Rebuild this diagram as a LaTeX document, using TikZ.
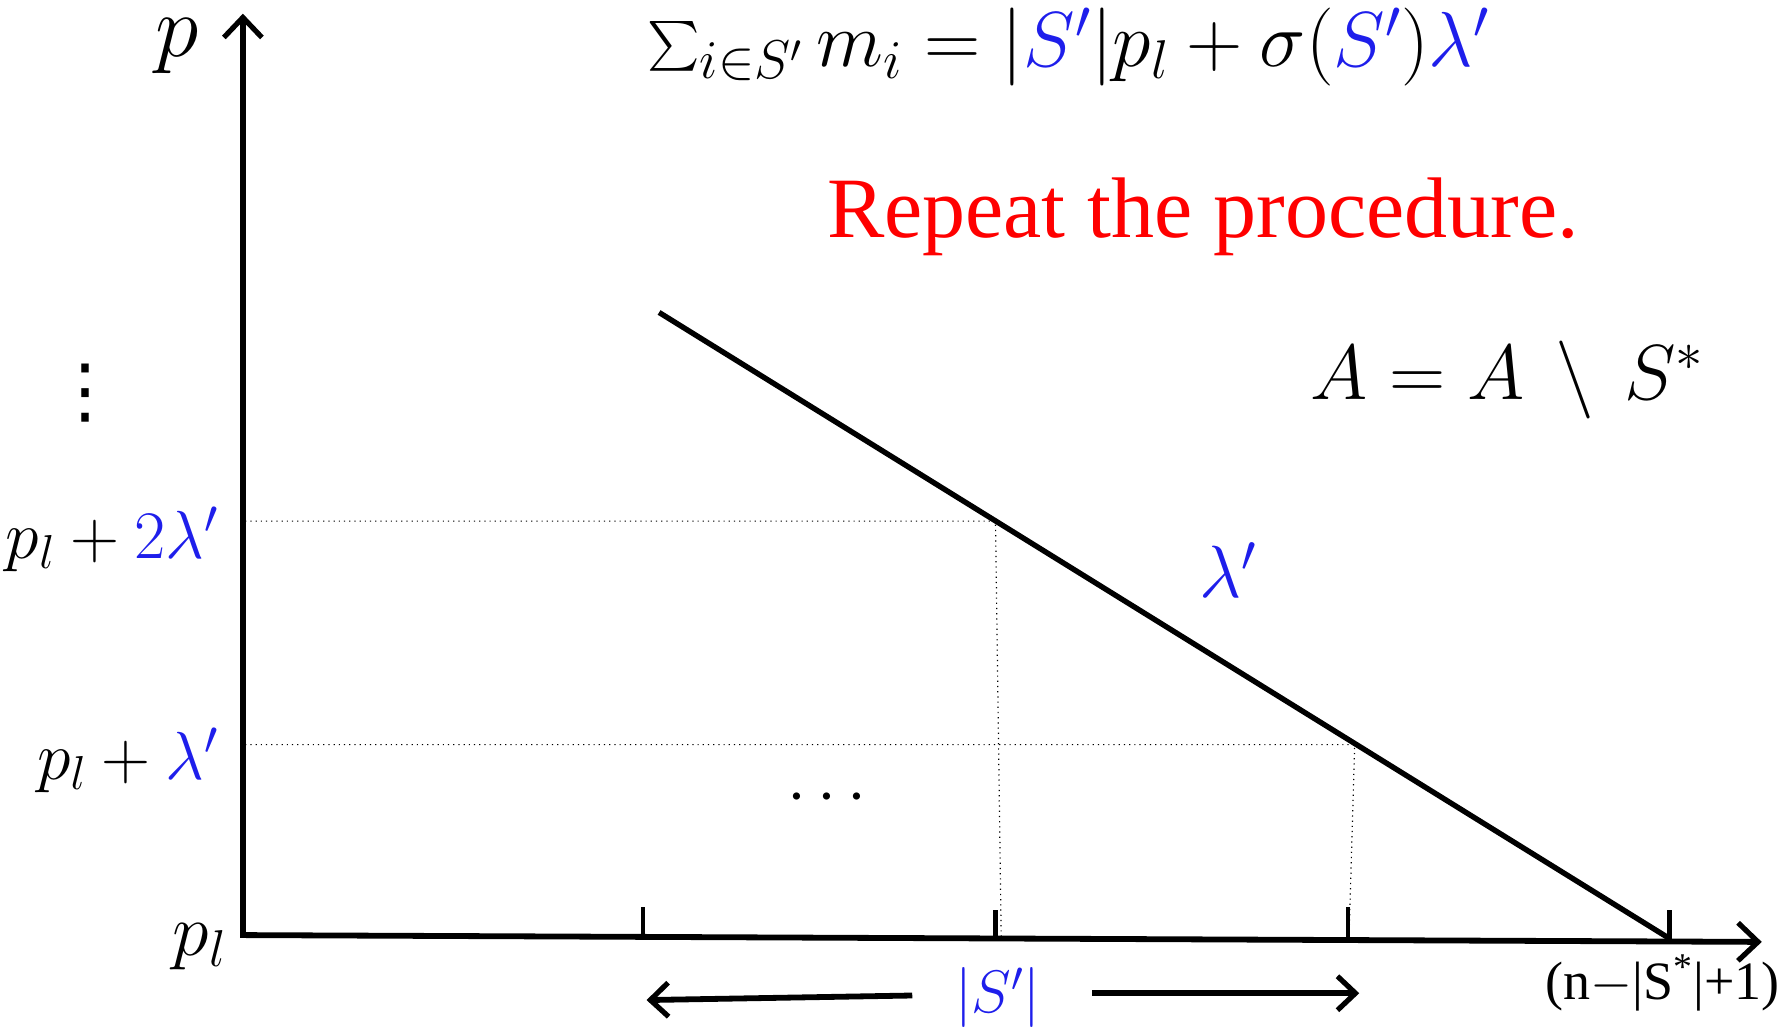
\RequirePackage{fix-cm}
\documentclass[tikz,border=0pt]{standalone}
\usepackage{amsmath}
\usepackage{fontspec}
\newfontfamily\timesf{Liberation Serif}
\newfontfamily\dejavu{DejaVu Sans}
\usetikzlibrary{arrows.meta}
\definecolor{myblue}{RGB}{30,30,235}
\begin{document}
\begin{tikzpicture}[x=0.5702pt,y=-0.5702pt,
  axis/.style={line width=2.9pt,-{Straight Barb[length=10pt,width=19pt,line width=2.6pt]}},
  thick line/.style={line width=2.7pt},
  tickmark/.style={line width=2.2pt},
  dotline/.style={line width=0.6pt,dotted},
  mathlbl/.style={inner sep=0pt,font=\fontsize{34}{40}\selectfont},
  bigmath/.style={inner sep=0pt,font=\fontsize{44}{50}\selectfont},
  barrow/.style={line width=2.9pt,-{Straight Barb[length=9pt,width=17pt,line width=2.6pt]}}]
\useasboundingbox (0,0) rectangle (1568,901);
% axes
\coordinate (O) at (213,820);
\coordinate (Ytop) at (213,12);
\coordinate (Xend) at (1545,826);
\draw[axis] (O) -- (Ytop);
\draw[axis] ([xshift=-1.4pt]O) -- (Xend);
% ticks
\coordinate (t1a) at (564,821.6); \coordinate (t1b) at (564,795);
\coordinate (t2a) at (873,823); \coordinate (t2b) at (873,798);
\coordinate (t3a) at (1182,824.4); \coordinate (t3b) at (1182,795);
\coordinate (t4a) at (1464,825.6); \coordinate (t4b) at (1464,798);
\draw[tickmark] (t1a) -- (t1b);
\draw[tickmark] (t2a) -- (t2b);
\draw[tickmark] (t3a) -- (t3b);
\draw[tickmark] (t4a) -- (t4b);
% diagonal
\coordinate (D1) at (578,274);
\coordinate (D2) at (1464,823);
\draw[thick line] (D1) -- (D2);
% dotted guides
\coordinate (h2a) at (215,457); \coordinate (h2b) at (873,457); \coordinate (v2) at (878,822);
\coordinate (h1a) at (215,653); \coordinate (h1b) at (1188,653); \coordinate (v1) at (1183,823);
\draw[dotline] (h2a) -- (h2b) -- (v2);
\draw[dotline] (h1a) -- (h1b) -- (v1);
% labels
\node[bigmath] (plab) at (155,40) {$p$};
\node[mathlbl,anchor=east] (l2) at (192,473) {$p_l + \textcolor{myblue}{2\lambda'}$};
\node[mathlbl,anchor=east] (l1) at (192,667) {$p_l + \textcolor{myblue}{\lambda'}$};
\node[inner sep=0pt,font=\fontsize{37}{42}\selectfont] (l0) at (175,830) {$p_l$};
\node[inner sep=0pt,font=\dejavu\fontsize{36}{40}\selectfont] (vd) at (75,345) {⋮};
\node[mathlbl] (hd) at (730,700) {$\cdots$};
\node[inner sep=0pt,font=\fontsize{37}{42}\selectfont,text=myblue] (lam) at (1077,500) {$\lambda'$};
\node[inner sep=0pt,font=\fontsize{39}{44}\selectfont] (eq) at (937,41)
  {$\textstyle\sum_{i\in S'} m_i = |\textcolor{myblue}{S'}|p_l + \sigma(\textcolor{myblue}{S'})\textcolor{myblue}{\lambda'}$};
\node[inner sep=0pt,text=red,font=\timesf\fontsize{43}{48}\selectfont] (rep) at (1055,190) {Repeat the procedure.};
\node[inner sep=0pt,font=\fontsize{39}{46}\selectfont] (AA) at (1322,333) {$A = A \,\setminus\, S^*$};
\node[inner sep=0pt,text=myblue,font=\fontsize{30}{36}\selectfont] (Sp) at (875,875) {$|S'|$};
\node[inner sep=0pt,font=\timesf\fontsize{27}{31}\selectfont] (nl) at (1458,862) {(n$-$|S\textsuperscript{*}|+1)};
% bottom arrows
\coordinate (la) at (800,873); \coordinate (lb) at (567,877);
\coordinate (ra) at (958,871); \coordinate (rb) at (1192,871);
\draw[barrow] (la) -- (lb);
\draw[barrow] (ra) -- (rb);
\end{tikzpicture}
\end{document}
